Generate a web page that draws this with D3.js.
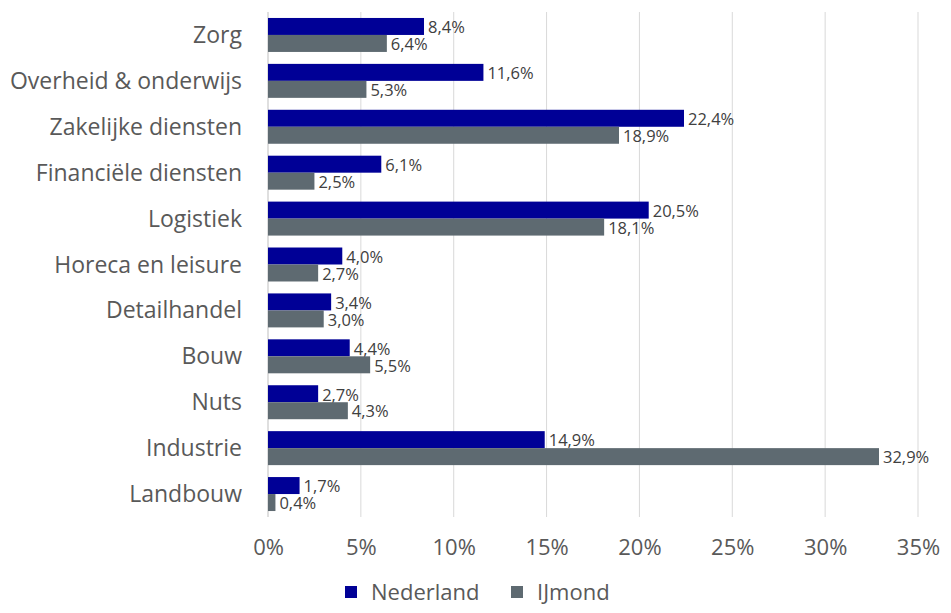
<!DOCTYPE html>
<html><head><meta charset="utf-8">
<script src="https://cdn.jsdelivr.net/npm/d3@7"></script>
<style>body{margin:0;background:#fff;} svg{display:block;}</style>
</head><body><svg id="c" width="951" height="613"></svg>
<script>
const categories = ["Zorg","Overheid & onderwijs","Zakelijke diensten","Financiële diensten","Logistiek","Horeca en leisure","Detailhandel","Bouw","Nuts","Industrie","Landbouw"];
const nederland = [8.4,11.6,22.4,6.1,20.5,4.0,3.4,4.4,2.7,14.9,1.7];
const ijmond = [6.4,5.3,18.9,2.5,18.1,2.7,3.0,5.5,4.3,32.9,0.4];
const seriesNames = ["Nederland","IJmond"];
const colors = ["#000096","#5e6a71"];
const xTicks = [0,5,10,15,20,25,30,35];

const svg = d3.select("#c");
const font = "'Open Sans', sans-serif";
const x = d3.scaleLinear().domain([0,35]).range([268,918]);
const y = d3.scaleBand().domain(categories).range([12,517]).paddingInner(0.26).paddingOuter(0.13);
const sub = d3.scaleBand().domain(seriesNames).range([0,y.bandwidth()]);

svg.append("g").selectAll("line").data(xTicks).join("line")
  .attr("x1",d=>x(d)).attr("x2",d=>x(d)).attr("y1",12).attr("y2",517)
  .attr("stroke",d=>d===0?"#bfbfbf":"#d9d9d9").attr("stroke-width",1);

const xAxis = d3.axisBottom(x).tickValues(xTicks).tickFormat(d=>d+"%").tickSize(0).tickPadding(0);
const gx = svg.append("g").attr("transform","translate(0,539)").call(xAxis);
gx.select(".domain").remove();
gx.selectAll("text").attr("font-family",font).attr("font-size",22).attr("fill","#595959").attr("dy","0.71em");

const yAxis = d3.axisLeft(y).tickSize(0).tickPadding(26);
const gy = svg.append("g").attr("transform","translate(268,0)").call(yAxis);
gy.select(".domain").remove();
gy.selectAll("text").attr("font-family",font).attr("font-size",23).attr("fill","#595959").attr("dy","0.35em");

const series = [nederland, ijmond];
const fmt = v => v.toFixed(1).replace(".",",")+"%";
series.forEach((vals,si)=>{
  const g = svg.append("g");
  g.selectAll("rect").data(categories).join("rect")
    .attr("x",x(0)).attr("y",(c)=>y(c)+sub(seriesNames[si]))
    .attr("width",(c,i)=>x(vals[i])-x(0)).attr("height",sub.bandwidth())
    .attr("fill",colors[si]);
  g.selectAll("text").data(categories).join("text")
    .attr("x",(c,i)=>x(vals[i])+4).attr("y",(c)=>y(c)+sub(seriesNames[si])+sub.bandwidth()/2+1)
    .attr("dy","0.35em").attr("font-family",font).attr("font-size",16.5).attr("fill","#404040")
    .text((c,i)=>fmt(vals[i]));
});

const leg = svg.append("g");
const legX = [345,511];
seriesNames.forEach((n,i)=>{
  leg.append("rect").attr("x",legX[i]).attr("y",586).attr("width",12).attr("height",12).attr("fill",colors[i]);
  leg.append("text").attr("x",legX[i]+26).attr("y",592).attr("dy","0.35em")
    .attr("font-family",font).attr("font-size",22).attr("fill","#595959").text(n);
});
</script></body></html>
